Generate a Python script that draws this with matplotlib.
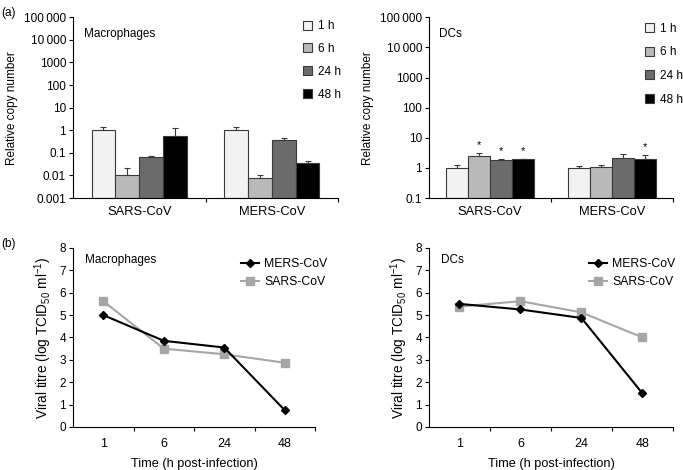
import matplotlib
matplotlib.use("Agg")
import matplotlib.pyplot as plt
import numpy as np

plt.rcParams['font.family'] = ['Liberation Sans', 'DejaVu Sans']
plt.rcParams['font.size'] = 8
plt.rcParams['mathtext.default'] = 'regular'

# ---- data ----
groups = ['SARS-CoV', 'MERS-CoV']
times = ['1 h', '6 h', '24 h', '48 h']
bar_colors = ['#f2f2f2', '#b9b9b9', '#6b6b6b', '#000000']

# Macrophages relative copy number [group][time]
mac_vals = [[1.0, 0.010, 0.063, 0.54],
            [1.0, 0.0075, 0.37, 0.034]]
mac_err_top = [[1.35, 0.022, 0.07, 1.3],
               [1.38, 0.0107, 0.45, 0.042]]

# DCs relative copy number
dc_vals = [[1.0, 2.5, 1.85, 1.9],
           [1.0, 1.1, 2.15, 2.05]]
dc_err_top = [[1.29, 3.06, 1.99, 2.04],
              [1.13, 1.26, 2.92, 2.63]]
dc_star = [[False, True, True, True],
           [False, False, False, True]]

tp_labels = ['1', '6', '24', '48']
mac_mers = [5.0, 3.85, 3.55, 0.75]
mac_sars = [5.62, 3.5, 3.25, 2.87]
dc_mers = [5.5, 5.25, 4.87, 1.5]
dc_sars = [5.38, 5.62, 5.12, 4.0]

fig = plt.figure(figsize=(6.83, 4.70), dpi=100)

def style(ax):
    for s in ['top', 'right']:
        ax.spines[s].set_visible(False)
    ax.spines['left'].set_linewidth(0.8)
    ax.spines['bottom'].set_linewidth(0.8)
    ax.tick_params(axis='both', direction='out', length=3, width=0.8, pad=2, labelsize=8.5)

def bars(ax, vals, errs, ylo, yticks, yticklabels, title, stars=None,
         leg_anchor=(1.0, 1.0), leg_space=0.9):
    bw = 0.18
    for t in range(4):
        xs = [g + 0.5 + (t - 1.5) * bw for g in range(2)]
        hs = [vals[g][t] for g in range(2)]
        ax.bar(xs, [h - ylo for h in hs], bottom=ylo, width=bw, color=bar_colors[t],
               edgecolor='#3a3a3a', linewidth=0.8, label=times[t], zorder=2)
        up = [errs[g][t] - vals[g][t] for g in range(2)]
        ax.errorbar(xs, hs, yerr=[np.zeros(2), up], fmt='none', ecolor='#3a3a3a',
                    elinewidth=0.8, capsize=2, capthick=0.8, zorder=1)
        if stars is not None:
            for g in range(2):
                if stars[g][t]:
                    ax.text(xs[g], errs[g][t] * 1.25, '*', ha='center', va='bottom', fontsize=8)
    ax.set_yscale('log')
    ax.set_ylim(ylo, 1e5)
    ax.set_yticks(yticks)
    ax.set_yticklabels(yticklabels)
    ax.yaxis.set_minor_locator(matplotlib.ticker.NullLocator())
    ax.set_xlim(0, 2)
    ax.set_xticks([0.5, 1.5])
    ax.set_xticklabels(groups, fontsize=9.3)
    ax.tick_params(axis='x', length=0, pad=6)
    ax.set_xticks([1, 2], minor=True)
    ax.tick_params(axis='x', which='minor', length=3, width=0.8, direction='out')
    ax.set_ylabel('Relative copy number', fontsize=8.5, labelpad=4)
    ax.text(0.04, 0.91, title, transform=ax.transAxes, fontsize=8.5, va='center')
    ax.legend(loc='upper left', bbox_to_anchor=leg_anchor, frameon=False, fontsize=8.5,
              handlelength=0.8, handleheight=0.8, handletextpad=0.5, labelspacing=leg_space,
              borderaxespad=0)

def lines(ax, mers, sars, title, leg_x):
    x = np.arange(4) + 0.5
    ax.plot(x, mers, color='black', marker='D', markersize=4.5, linewidth=1.5, label='MERS-CoV', zorder=3)
    ax.plot(x, sars, color='#a6a6a6', marker='s', markersize=6, linewidth=1.5, label='SARS-CoV', zorder=2)
    ax.set_xlim(0, 4)
    ax.set_ylim(0, 8)
    ax.set_yticks(range(0, 9))
    ax.set_xticks(x)
    ax.set_xticklabels(tp_labels, fontsize=9)
    ax.tick_params(axis='x', length=0, pad=8)
    ax.set_xticks([1, 2, 3, 4], minor=True)
    ax.tick_params(axis='x', which='minor', length=3, width=0.8, direction='out')
    ax.set_ylabel('Viral titre (log TCID$_{50}$ ml$^{\u22121}$)', fontsize=9.8, labelpad=4)
    ax.set_xlabel('Time (h post-infection)', fontsize=9.2, labelpad=6)
    ax.text(0.05, 0.93, title, transform=ax.transAxes, fontsize=8.5, va='center')
    ax.legend(loc='upper right', bbox_to_anchor=(leg_x, 0.97), frameon=False, fontsize=8.8,
              handlelength=1.5, handletextpad=0.4, labelspacing=0.5, borderaxespad=0)

ax1 = fig.add_axes([0.1069, 0.5787, 0.388, 0.3845])
style(ax1)
bars(ax1, mac_vals, mac_err_top, 1e-3,
     [1e-3, 1e-2, 1e-1, 1, 10, 100, 1000, 1e4, 1e5],
     ['0.001', '0.01', '0.1', '1', '10', '100', '1000', '10\u2009000', '100\u2009000'],
     'Macrophages', leg_anchor=(0.85, 1.01), leg_space=0.92)

ax2 = fig.add_axes([0.6281, 0.5787, 0.3572, 0.3845])
style(ax2)
bars(ax2, dc_vals, dc_err_top, 0.1,
     [0.1, 1, 10, 100, 1000, 1e4, 1e5],
     ['0.1', '1', '10', '100', '1000', '10\u2009000', '100\u2009000'],
     'DCs', stars=dc_star, leg_anchor=(0.865, 0.995), leg_space=0.98)

ax3 = fig.add_axes([0.1069, 0.0915, 0.3543, 0.381])
style(ax3)
lines(ax3, mac_mers, mac_sars, 'Macrophages', 1.07)

ax4 = fig.add_axes([0.6281, 0.0915, 0.3572, 0.381])
style(ax4)
lines(ax4, dc_mers, dc_sars, 'DCs', 1.03)

fig.text(0.002, 0.985, '(a)', fontsize=8.5, va='top')
fig.text(0.002, 0.493, '(b)', fontsize=8.5, va='top')

fig.savefig('out.png', dpi=100)
